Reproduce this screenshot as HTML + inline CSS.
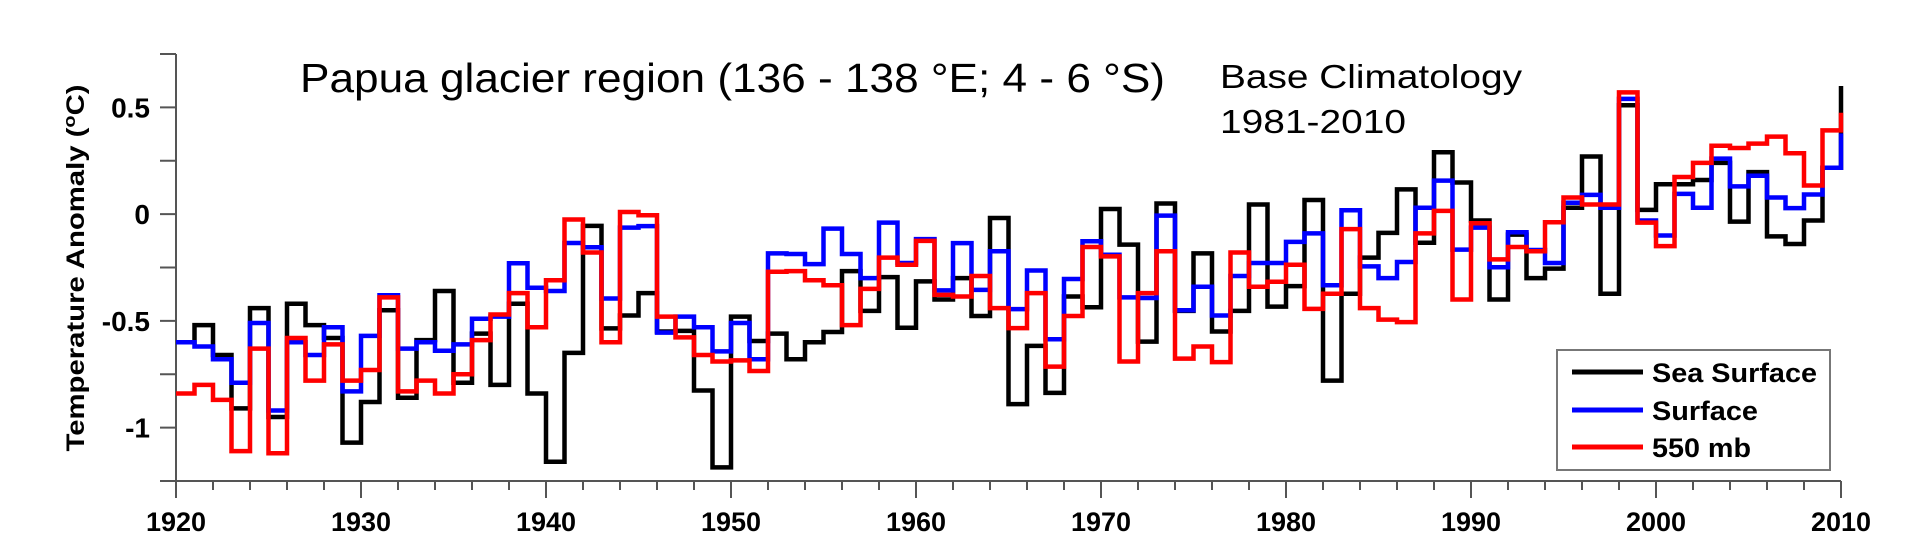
<!DOCTYPE html>
<html><head><meta charset="utf-8"><style>
html,body{margin:0;padding:0;background:#fff;}
svg{display:block;}
text{font-family:"Liberation Sans",Arial,sans-serif;}
</style></head><body>
<svg id="chart" width="1920" height="554" viewBox="0 0 1920 554" xmlns="http://www.w3.org/2000/svg">
<rect x="0" y="0" width="1920" height="554" fill="#fff"/>
<g id="axes"></g>
<g id="series"></g>
<text x="300" y="92" font-size="41" textLength="865" lengthAdjust="spacingAndGlyphs" fill="#000">Papua glacier region (136 - 138 °E; 4 - 6 °S)</text>
<text x="1220" y="88" font-size="33" textLength="302" lengthAdjust="spacingAndGlyphs" fill="#000">Base Climatology</text>
<text x="1220" y="133" font-size="33" textLength="186" lengthAdjust="spacingAndGlyphs" fill="#000">1981-2010</text>
<text transform="translate(84,268) rotate(-90)" text-anchor="middle" font-size="25" font-weight="bold" textLength="367" lengthAdjust="spacingAndGlyphs" fill="#000">Temperature Anomaly (<tspan baseline-shift="super" font-size="17">o</tspan>C)</text>
<g>
<rect x="1557" y="350" width="273" height="120" fill="#fff" stroke="#777" stroke-width="2"/>
<line x1="1572" y1="372" x2="1643" y2="372" stroke="#000" stroke-width="5"/>
<text x="1652" y="382" font-size="27" font-weight="bold" textLength="165" lengthAdjust="spacingAndGlyphs">Sea Surface</text>
<line x1="1572" y1="410" x2="1643" y2="410" stroke="#0000ff" stroke-width="5"/>
<text x="1652" y="420" font-size="27" font-weight="bold" textLength="106" lengthAdjust="spacingAndGlyphs">Surface</text>
<line x1="1572" y1="447" x2="1643" y2="447" stroke="#ff0000" stroke-width="5"/>
<text x="1652" y="457" font-size="27" font-weight="bold" textLength="99" lengthAdjust="spacingAndGlyphs">550 mb</text>
</g>
</svg>
<script>
const years = [];
for (let y = 1920; y <= 2010; y++) years.push(y);
const seaSurface = [-0.60,-0.52,-0.66,-0.91,-0.44,-0.95,-0.42,-0.52,-0.58,-1.07,
-0.88,-0.45,-0.86,-0.59,-0.36,-0.79,-0.56,-0.80,-0.42,-0.84,
-1.16,-0.65,-0.055,-0.535,-0.475,-0.37,-0.55,-0.547,-0.826,-1.186,
-0.48,-0.594,-0.56,-0.68,-0.60,-0.552,-0.267,-0.453,-0.295,-0.532,
-0.315,-0.40,-0.30,-0.477,-0.018,-0.89,-0.617,-0.837,-0.386,-0.436,
0.024,-0.143,-0.597,0.05,-0.453,-0.184,-0.55,-0.453,0.045,-0.433,
-0.337,0.066,-0.78,-0.373,-0.204,-0.088,0.116,-0.134,0.29,0.148,
-0.03,-0.40,-0.096,-0.30,-0.255,0.03,0.27,-0.373,0.51,0.02,
0.14,0.14,0.16,0.24,-0.035,0.197,-0.104,-0.14,-0.03,0.217,0.60];
const surface = [-0.60,-0.62,-0.68,-0.79,-0.51,-0.92,-0.60,-0.66,-0.53,-0.83,
-0.57,-0.38,-0.63,-0.60,-0.64,-0.61,-0.49,-0.48,-0.23,-0.345,
-0.36,-0.135,-0.155,-0.395,-0.063,-0.056,-0.555,-0.48,-0.53,-0.643,
-0.51,-0.68,-0.184,-0.187,-0.234,-0.068,-0.187,-0.30,-0.04,-0.229,
-0.117,-0.357,-0.136,-0.355,-0.174,-0.445,-0.264,-0.586,-0.304,-0.127,
-0.19,-0.39,-0.393,-0.007,-0.45,-0.34,-0.475,-0.29,-0.229,-0.229,
-0.13,-0.09,-0.333,0.018,-0.245,-0.30,-0.224,0.03,0.157,-0.166,
-0.063,-0.249,-0.085,-0.168,-0.229,0.053,0.09,0.03,0.54,-0.03,
-0.10,0.095,0.03,0.26,0.13,0.18,0.078,0.028,0.092,0.217,0.378];
const mb550 = [-0.84,-0.80,-0.87,-1.11,-0.63,-1.12,-0.58,-0.78,-0.61,-0.78,
-0.73,-0.39,-0.83,-0.78,-0.84,-0.75,-0.59,-0.47,-0.37,-0.53,
-0.31,-0.025,-0.18,-0.60,0.01,-0.005,-0.48,-0.577,-0.66,-0.69,
-0.685,-0.735,-0.27,-0.267,-0.31,-0.333,-0.52,-0.35,-0.204,-0.237,
-0.125,-0.378,-0.386,-0.29,-0.44,-0.534,-0.37,-0.714,-0.477,-0.154,
-0.198,-0.69,-0.37,-0.174,-0.677,-0.62,-0.693,-0.18,-0.34,-0.317,
-0.237,-0.444,-0.373,-0.07,-0.44,-0.494,-0.506,-0.09,0.015,-0.40,
-0.043,-0.212,-0.154,-0.174,-0.038,0.078,0.045,0.045,0.57,-0.04,
-0.15,0.174,0.24,0.32,0.31,0.33,0.363,0.285,0.134,0.392,0.475];
const xTickLabels = ["1920","1930","1940","1950","1960","1970","1980","1990","2000","2010"];
const yTickLabels = ["0.5","0","-0.5","-1"];

const NS = "http://www.w3.org/2000/svg";
const X0 = 176, X1 = 1841, YMIN = -1.25, YMAX = 0.75, PT = 54, PB = 481;
function xs(yr){ return X0 + (yr - 1920) / 90 * (X1 - X0); }
function ys(v){ return PB - (v - YMIN) / (YMAX - YMIN) * (PB - PT); }
function mk(tag, attrs, parent){ const e = document.createElementNS(NS, tag); for (const k in attrs) e.setAttribute(k, attrs[k]); parent.appendChild(e); return e; }

const axes = document.getElementById('axes');
let l = mk('line', {x1:X0, y1:PT, x2:X0, y2:PB, stroke:'#555', 'stroke-width':2}, axes);


l = mk('line', {x1:X0, y1:PB, x2:X1, y2:PB, stroke:'#555', 'stroke-width':2}, axes);


for (let v = -1.25; v <= 0.751; v += 0.25) {
  const t = mk('line', {x1:160, y1:ys(v), x2:X0, y2:ys(v), stroke:'#555', 'stroke-width':2}, axes);
  
  
}
yTickLabels.forEach(s => {
  const t = mk('text', {x:150, y:ys(parseFloat(s)) + 10, 'text-anchor':'end', 'font-size':28, 'font-weight':'bold'}, axes);
  t.textContent = s;
  
  
});
for (let yr = 1920; yr <= 2010; yr += 2) {
  const major = (yr % 10 === 0);
  const t = mk('line', {x1:xs(yr), y1:PB, x2:xs(yr), y2: major ? 498 : 490, stroke:'#555', 'stroke-width':2}, axes);
  
  
}
xTickLabels.forEach(s => {
  const t = mk('text', {x:xs(parseInt(s)), y:531, 'text-anchor':'middle', 'font-size':27, 'font-weight':'bold'}, axes);
  t.textContent = s;
  
  
});

const sg = document.getElementById('series');
function stepPath(vals){
  let d = 'M' + xs(years[0]) + ' ' + ys(vals[0]);
  for (let i = 0; i < vals.length - 1; i++) {
    d += ' H' + xs(years[i] + 1) + ' V' + ys(vals[i + 1]);
  }
  return d;
}
const seriesDefs = [[seaSurface,'#000','series-sea-surface'],[surface,'#0000ff','series-surface'],[mb550,'#ff0000','series-550mb']];
seriesDefs.forEach(s => {
  const p = mk('path', {d:stepPath(s[0]), fill:'none', stroke:s[1], 'stroke-width':4.5, 'stroke-linejoin':'miter'}, sg);
  
  
});
</script>
</body></html>
